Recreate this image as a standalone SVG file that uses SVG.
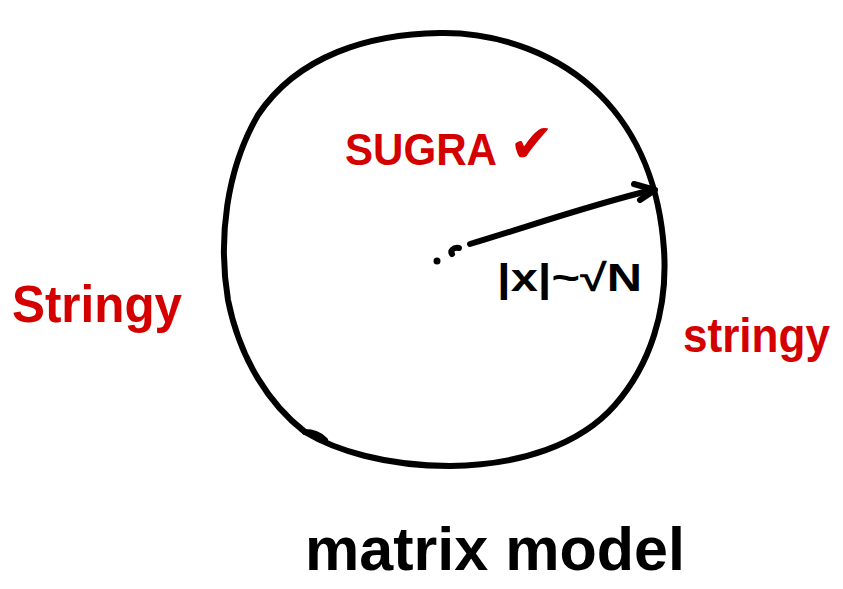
<svg xmlns="http://www.w3.org/2000/svg" width="843" height="589" viewBox="0 0 843 589">
<style>
.ink{fill:none;stroke:#000;stroke-width:6;stroke-linecap:round;stroke-linejoin:round}
.red{fill:#d40000;font-family:"Liberation Sans","DejaVu Sans",sans-serif;font-weight:bold}
.blk{fill:#000;font-family:"Liberation Sans","DejaVu Sans",sans-serif;font-weight:bold}
</style>
<rect width="843" height="589" fill="#fff"/>
<g id="circle">
<path class="ink" d="M440,33 C500,32 560,55 600,95 C640,135 660,190 664,250 C668,310 650,365 615,405 C580,445 520,465 450,466 C385,466 335,450 305,432 C270,405 240,360 228,300 C218,240 226,170 258,115 C298,55 370,34 440,33 Z"/>
<path class="ink" d="M305,432 C315,432 322,437 325,440"/>
</g>
<g id="sugra">
<text class="red" x="345" y="165" font-size="44" textLength="152" lengthAdjust="spacingAndGlyphs">SUGRA</text>
<text class="red" x="509" y="162" font-size="54" font-family="DejaVu Sans">✔</text>
</g>
<g id="center">
<circle cx="437" cy="261" r="3.5" fill="#000"/>
<path class="ink" d="M459,248 C453,247 450,251 452,254"/>
</g>
<g id="connectors">
<path class="ink" d="M470,244 C530,226 590,205 652,190"/>
<path class="ink" d="M634,184 L655,190 L640,200"/>
</g>
<g id="radius-label">
<text class="blk" x="497" y="291" font-size="38" textLength="145" lengthAdjust="spacingAndGlyphs">|x|~√N</text>
</g>
<g id="stringy-left">
<text class="red" x="12" y="322" font-size="52" textLength="170" lengthAdjust="spacingAndGlyphs">Stringy</text>
</g>
<g id="stringy-right">
<text class="red" x="683" y="352" font-size="48" textLength="147" lengthAdjust="spacingAndGlyphs">stringy</text>
</g>
<g id="matrix-model">
<text class="blk" x="305" y="570" font-size="62" textLength="380" lengthAdjust="spacingAndGlyphs">matrix model</text>
</g>
</svg>
